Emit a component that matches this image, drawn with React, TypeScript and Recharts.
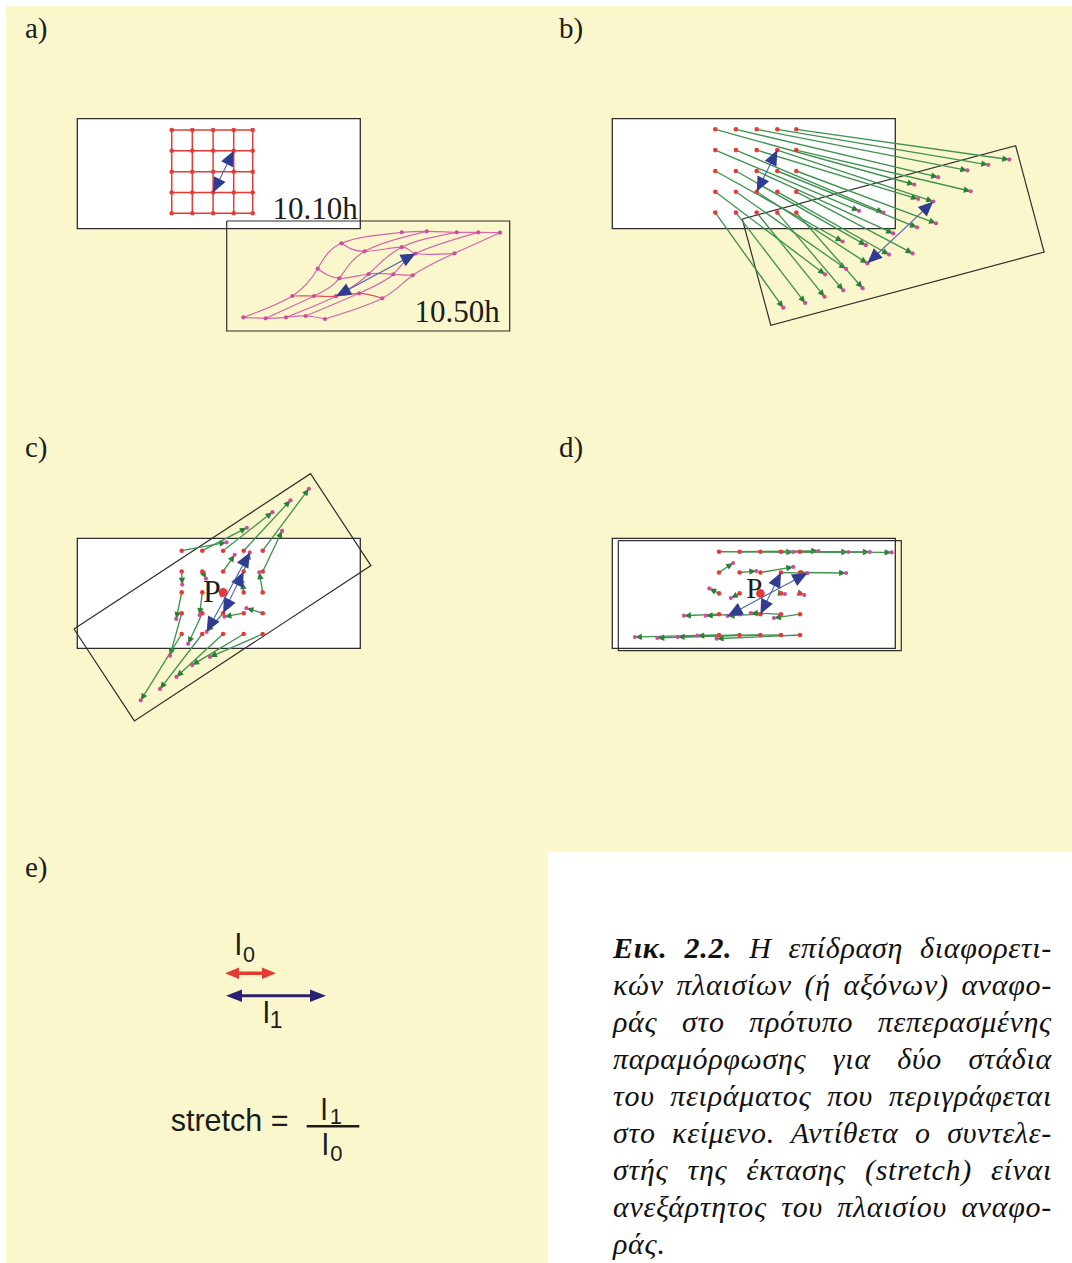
import {
  ComposedChart,
  Line,
  ReferenceArea,
  ReferenceDot,
  ReferenceLine,
  Scatter,
  XAxis,
  YAxis,
} from 'recharts';

const WIDTH = 1072;
const HEIGHT = 1263;

const PAPER = '#faf7cc';
const INK = '#1c1c1c';
const FRAME = '#2e2e2e';
const GRID_RED = '#e63b35';
const MESH_PINK = '#d466ab';
const MESH_RED = '#e44a5c';
const NODE_PINK = '#cf4c9b';
const SERIF = '"Liberation Serif", "Times New Roman", serif';
const SANS = '"Liberation Sans", Arial, sans-serif';

// undeformed 5x5 grid (10.10h): offsets of columns / rows from the top-left node
const gridColOffsets = [0, 20.6, 41.4, 62, 81];
const gridRowOffsets = [0, 20.8, 41.7, 62.5, 83.3];

// deformed grid (10.50h): nodes measured from the corner of its own frame, rows top to bottom
const meshX = [
  [175, 200, 230, 251.6, 273.3],
  [114.8, 138, 175, 189, 227.8],
  [91, 112.6, 142, 166.6, 186],
  [65.6, 87.3, 109.3, 132.5, 155.6],
  [16.6, 39, 59.3, 79, 98.3],
];
const meshY = [
  [11.3, 10.3, 11.3, 11.3, 11.7],
  [22.3, 30.3, 26.2, 32.5, 32.3],
  [47.7, 57.3, 53, 53.3, 54.3],
  [75, 75, 75.2, 72.3, 77.3],
  [96.3, 97.3, 96.3, 95, 98],
];

// panels a-d: reference frame of the undeformed grid
const frameW = 283;
const frameH = 110;
const frameLeft = [77.3, 612.3, 77.3, 612.3];
const frameTop = [118.7, 118.7, 538.3, 538.3];
const gridLeft = [171.7, 715.3, 181.7, 719];
const gridTop = [130, 129.3, 550.7, 551.7];
// frame of the deformed grid: corner and counter-clockwise tilt (deg)
const meshLeft = [226.7, 742.3, 74, 618.3];
const meshTop = [221, 219, 629, 540.7];
const meshTilt = [0, 15, 33.3, 0];

// nodes joined by the blue stretch arrow, and the fixed point P
const stretchFrom = [3, 2];
const stretchTo = [1, 3];
const pivot = [2, 2];

const panelLabels = ['a)', 'b)', 'c)', 'd)', 'e)'];
const panelLabelX = [25, 559, 25, 559, 25];
const panelLabelY = [37.5, 37.5, 456.5, 456.5, 876.5];

const timeLabels = ['10.10h', '10.50h'];
const timeLabelX = [272.6, 414.6];
const timeLabelY = [219, 321.5];

// panel e: lengths before and after stretching
const l0Span = [225, 276];
const l0Level = 973.3;
const l1Span = [226, 326];
const l1Level = 995.7;

const captionLead = 'Εικ. 2.2.';
const captionLines = [
  'Η επίδραση διαφορετι-',
  'κών πλαισίων (ή αξόνων) αναφο-',
  'ράς στο πρότυπο πεπερασμένης',
  'παραμόρφωσης για δύο στάδια',
  'του πειράματος που περιγράφεται',
  'στο κείμενο. Αντίθετα ο συντελε-',
  'στής της έκτασης (stretch) είναι',
  'ανεξάρτητος του πλαισίου αναφο-',
  'ράς.',
];

type Pt = { x: number; y: number };

const NODES = [0, 1, 2, 3, 4];
const PANELS = [0, 1, 2, 3];
const ARROW_PANELS = [1, 2, 3];
const PIVOT_PANELS = [2, 3];

function inMeshFrame(panel: number, dx: number, dy: number): Pt {
  const a = (meshTilt[panel] * Math.PI) / 180;
  return {
    x: meshLeft[panel] + dx * Math.cos(a) + dy * Math.sin(a),
    y: meshTop[panel] - dx * Math.sin(a) + dy * Math.cos(a),
  };
}

const meshNode = (panel: number, r: number, c: number) =>
  inMeshFrame(panel, meshX[r][c], meshY[r][c]);

const gridNode = (panel: number, r: number, c: number): Pt => ({
  x: gridLeft[panel] + gridColOffsets[c],
  y: gridTop[panel] + gridRowOffsets[r],
});

const meshOutline = (panel: number) =>
  [
    [0, 0],
    [frameW, 0],
    [frameW, frameH],
    [0, frameH],
    [0, 0],
  ].map(([dx, dy]) => inMeshFrame(panel, dx, dy));

const allNodes = (node: (r: number, c: number) => Pt) =>
  NODES.flatMap((r) => NODES.map((c) => node(r, c)));

// z-order of the layers
const Z_PAPER = 1;
const Z_FRAME = 2;
const Z_LINES = 3;
const Z_NODES = 4;
const Z_STRETCH = 5;
const Z_TEXT = 6;

type ArrowOpts = {
  stroke: string;
  fill: string;
  width: number;
  len: number;
  half: number;
  both?: boolean;
};

const arrow = (o: ArrowOpts) => (p: any) => {
  const { x1, y1, x2, y2 } = p;
  const d = Math.hypot(x2 - x1, y2 - y1) || 1;
  const ux = (x2 - x1) / d;
  const uy = (y2 - y1) / d;
  const head = (tx: number, ty: number, sx: number, sy: number) => {
    const bx = tx - sx * o.len;
    const by = ty - sy * o.len;
    return `${tx},${ty} ${bx - sy * o.half},${by + sx * o.half} ${bx + sy * o.half},${by - sx * o.half}`;
  };
  const inset = o.len * 0.6;
  return (
    <g>
      <line
        x1={o.both ? x1 + ux * inset : x1}
        y1={o.both ? y1 + uy * inset : y1}
        x2={x2 - ux * inset}
        y2={y2 - uy * inset}
        stroke={o.stroke}
        strokeWidth={o.width}
      />
      <polygon points={head(x2, y2, ux, uy)} fill={o.fill} />
      {o.both && <polygon points={head(x1, y1, -ux, -uy)} fill={o.fill} />}
    </g>
  );
};

const greenArrow = arrow({ stroke: '#3f9250', fill: '#2b7f3b', width: 1.35, len: 7, half: 3.2 });
const blueArrow = arrow({ stroke: '#4d5cb4', fill: '#2f3c90', width: 1.1, len: 15, half: 6.5, both: true });
const redSpan = arrow({ stroke: '#e33b30', fill: '#e33b30', width: 3.4, len: 14, half: 5.8, both: true });
const navySpan = arrow({ stroke: '#2c2170', fill: '#2c2170', width: 3, len: 16, half: 6.3, both: true });

const dot = (fill: string, r: number) => (p: any) =>
  <circle cx={p.cx} cy={p.cy} r={r} fill={fill} />;

const label =
  (text: string, family: string, size: number, fill = INK) =>
  (p: any) => (
    <text x={p.cx} y={p.cy} fontFamily={family} fontSize={size} fill={fill}>
      {text}
    </text>
  );

// "l" with a subscript digit
const lengthLabel =
  (sub: string, size: number, subSize: number, dx: number, dy: number) => (p: any) => (
    <text x={p.cx} y={p.cy} fontFamily={SANS} fontSize={size} fill={INK}>
      l
      <tspan dx={dx} dy={dy} fontSize={subSize}>
        {sub}
      </tspan>
    </text>
  );

function Caption() {
  const last = captionLines.length - 1;
  return (
    <div
      style={{
        position: 'absolute',
        left: 613,
        top: 928.7,
        width: 439,
        fontFamily: SERIF,
        fontStyle: 'italic',
        fontSize: 30,
        letterSpacing: 0.7,
        lineHeight: '37px',
        color: '#111',
      }}
    >
      {captionLines.map((line, i) => (
        <div
          key={i}
          style={{
            textAlign: i < last ? 'justify' : 'left',
            textAlignLast: i < last ? 'justify' : 'left',
          }}
        >
          {i === 0 && <b>{captionLead} </b>}
          {line}
        </div>
      ))}
    </div>
  );
}

export default function App() {
  return (
    <div style={{ position: 'relative', width: WIDTH, height: HEIGHT }}>
      <style>{'body { margin: 0; }'}</style>
      <ComposedChart width={WIDTH} height={HEIGHT} margin={{ top: 0, right: 0, bottom: 0, left: 0 }}>
        <XAxis type='number' dataKey='x' domain={[0, WIDTH]} allowDataOverflow hide />
        <YAxis type='number' dataKey='y' domain={[0, HEIGHT]} allowDataOverflow reversed hide />

        {/* paper */}
        <ReferenceArea x1={6} x2={WIDTH} y1={6} y2={852} fill={PAPER} fillOpacity={1} stroke='none' zIndex={Z_PAPER} ifOverflow='visible' />
        <ReferenceArea x1={6} x2={548} y1={840} y2={HEIGHT} fill={PAPER} fillOpacity={1} stroke='none' zIndex={Z_PAPER} ifOverflow='visible' />

        {/* undeformed frames */}
        {PANELS.map((p) => (
          <ReferenceArea
            key={`frame-${p}`}
            x1={frameLeft[p]}
            x2={frameLeft[p] + frameW}
            y1={frameTop[p]}
            y2={frameTop[p] + frameH}
            fill='#ffffff'
            fillOpacity={1}
            stroke={FRAME}
            strokeWidth={1.3}
            zIndex={Z_PAPER}
            ifOverflow='visible'
          />
        ))}

        {/* deformed frames */}
        {PANELS.map((p) => (
          <Line
            key={`mesh-frame-${p}`}
            data={meshOutline(p)}
            dataKey='y'
            type='linear'
            stroke={FRAME}
            strokeWidth={1.2}
            dot={false}
            activeDot={false}
            isAnimationActive={false}
            zIndex={Z_FRAME}
          />
        ))}

        {/* panel a: grid lines */}
        {NODES.map((i) => (
          <ReferenceLine
            key={`grid-row-${i}`}
            segment={[gridNode(0, i, 0), gridNode(0, i, 4)]}
            stroke={GRID_RED}
            strokeWidth={1.5}
            zIndex={Z_LINES}
            ifOverflow='visible'
          />
        ))}
        {NODES.map((i) => (
          <ReferenceLine
            key={`grid-col-${i}`}
            segment={[gridNode(0, 0, i), gridNode(0, 4, i)]}
            stroke={GRID_RED}
            strokeWidth={1.5}
            zIndex={Z_LINES}
            ifOverflow='visible'
          />
        ))}

        {/* panel a: deformed mesh */}
        {NODES.map((r) => (
          <Line
            key={`mesh-row-${r}`}
            data={NODES.map((c) => meshNode(0, r, c))}
            dataKey='y'
            type='natural'
            stroke={r === 3 ? MESH_RED : MESH_PINK}
            strokeWidth={1.2}
            dot={false}
            activeDot={false}
            isAnimationActive={false}
            zIndex={Z_LINES}
          />
        ))}
        {NODES.map((c) => (
          <Line
            key={`mesh-col-${c}`}
            data={NODES.map((r) => meshNode(0, r, c))}
            dataKey='y'
            type='natural'
            stroke={MESH_PINK}
            strokeWidth={1.2}
            dot={false}
            activeDot={false}
            isAnimationActive={false}
            zIndex={Z_LINES}
          />
        ))}

        {/* panels b-d: displacement of every node */}
        {ARROW_PANELS.flatMap((p) =>
          NODES.flatMap((r) =>
            NODES.map((c) => {
              const from = gridNode(p, r, c);
              const to = meshNode(p, r, c);
              if (Math.hypot(to.x - from.x, to.y - from.y) < 3) return null;
              return (
                <ReferenceLine
                  key={`disp-${p}-${r}-${c}`}
                  segment={[from, to]}
                  shape={greenArrow}
                  zIndex={Z_LINES}
                  ifOverflow='visible'
                />
              );
            }),
          ),
        )}

        {/* nodes */}
        {PANELS.map((p) => (
          <Scatter
            key={`grid-nodes-${p}`}
            data={allNodes((r, c) => gridNode(p, r, c))}
            shape={dot(GRID_RED, 2.3)}
            isAnimationActive={false}
            zIndex={Z_NODES}
          />
        ))}
        {PANELS.map((p) => (
          <Scatter
            key={`mesh-nodes-${p}`}
            data={allNodes((r, c) => meshNode(p, r, c))}
            shape={dot(NODE_PINK, 2.1)}
            isAnimationActive={false}
            zIndex={Z_NODES}
          />
        ))}
        <Scatter
          data={PIVOT_PANELS.map((p) => gridNode(p, pivot[0], pivot[1]))}
          shape={dot(GRID_RED, 4.3)}
          isAnimationActive={false}
          zIndex={Z_NODES}
        />

        {/* stretch arrows before and after */}
        {PANELS.map((p) => (
          <ReferenceLine
            key={`stretch-grid-${p}`}
            segment={[gridNode(p, stretchFrom[0], stretchFrom[1]), gridNode(p, stretchTo[0], stretchTo[1])]}
            shape={blueArrow}
            zIndex={Z_STRETCH}
            ifOverflow='visible'
          />
        ))}
        {PANELS.map((p) => (
          <ReferenceLine
            key={`stretch-mesh-${p}`}
            segment={[meshNode(p, stretchFrom[0], stretchFrom[1]), meshNode(p, stretchTo[0], stretchTo[1])]}
            shape={blueArrow}
            zIndex={Z_STRETCH}
            ifOverflow='visible'
          />
        ))}

        {/* panel e */}
        <ReferenceLine
          segment={[{ x: l0Span[0], y: l0Level }, { x: l0Span[1], y: l0Level }]}
          shape={redSpan}
          zIndex={Z_STRETCH}
          ifOverflow='visible'
        />
        <ReferenceLine
          segment={[{ x: l1Span[0], y: l1Level }, { x: l1Span[1], y: l1Level }]}
          shape={navySpan}
          zIndex={Z_STRETCH}
          ifOverflow='visible'
        />
        <ReferenceLine
          segment={[{ x: 306.7, y: 1126.2 }, { x: 359.3, y: 1126.2 }]}
          stroke={INK}
          strokeWidth={2.6}
          zIndex={Z_TEXT}
          ifOverflow='visible'
        />
        <ReferenceDot x={235} y={955} r={0} shape={lengthLabel('0', 30, 21.5, 1.4, 6.5)} zIndex={Z_TEXT} ifOverflow='visible' />
        <ReferenceDot x={263} y={1023.3} r={0} shape={lengthLabel('1', 30, 23, 0, 5)} zIndex={Z_TEXT} ifOverflow='visible' />
        <ReferenceDot x={170.7} y={1130.7} r={0} shape={label('stretch =', SANS, 30.5)} zIndex={Z_TEXT} ifOverflow='visible' />
        <ReferenceDot x={320.7} y={1120} r={0} shape={lengthLabel('1', 30, 22, 2.5, 4)} zIndex={Z_TEXT} ifOverflow='visible' />
        <ReferenceDot x={322} y={1155} r={0} shape={lengthLabel('0', 30, 22, 1.5, 5.5)} zIndex={Z_TEXT} ifOverflow='visible' />

        {/* labels */}
        {panelLabels.map((t, i) => (
          <ReferenceDot
            key={`panel-${t}`}
            x={panelLabelX[i]}
            y={panelLabelY[i]}
            r={0}
            shape={label(t, SERIF, 29)}
            zIndex={Z_TEXT}
            ifOverflow='visible'
          />
        ))}
        {timeLabels.map((t, i) => (
          <ReferenceDot
            key={`time-${t}`}
            x={timeLabelX[i]}
            y={timeLabelY[i]}
            r={0}
            shape={label(t, SERIF, 31)}
            zIndex={Z_TEXT}
            ifOverflow='visible'
          />
        ))}
        <ReferenceDot x={203} y={601.7} r={0} shape={label('P', SERIF, 32)} zIndex={Z_TEXT} ifOverflow='visible' />
        <ReferenceDot x={746.3} y={597.7} r={0} shape={label('P', SERIF, 29)} zIndex={Z_TEXT} ifOverflow='visible' />
      </ComposedChart>
      <Caption />
    </div>
  );
}
